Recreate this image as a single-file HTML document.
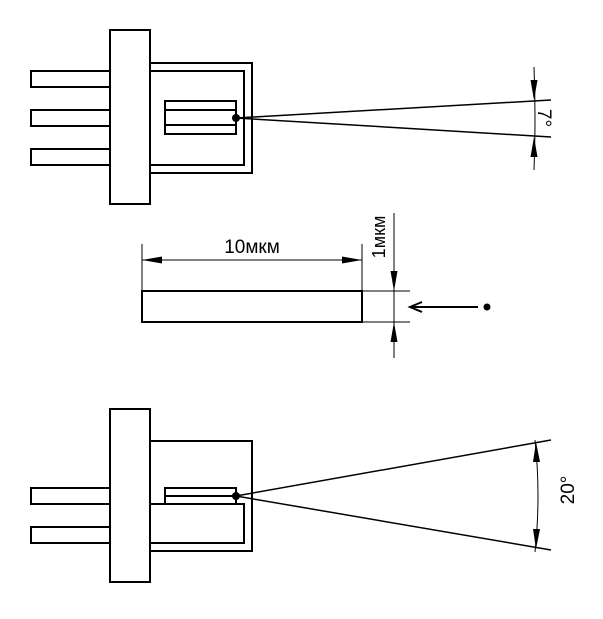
<!DOCTYPE html>
<html><head><meta charset="utf-8"><style>html,body{margin:0;padding:0;background:#fff}</style></head>
<body>
<svg width="603" height="614" viewBox="0 0 603 614" xmlns="http://www.w3.org/2000/svg">
<g fill="none" stroke="#000" stroke-width="2">
<rect x="31" y="71" width="79" height="16"/>
<rect x="31" y="110" width="79" height="16"/>
<rect x="31" y="149" width="79" height="16"/>
<rect x="110" y="30" width="40" height="174"/>
<polyline points="150,63 252,63 252,173 150,173"/>
<polyline points="150,71 244,71 244,165 150,165"/>
<rect x="165" y="101" width="71" height="33"/>
<line x1="165" y1="110" x2="236" y2="110"/>
<line x1="165" y1="125" x2="236" y2="125"/>
<rect x="31" y="488" width="79" height="16"/>
<rect x="31" y="527" width="79" height="16"/>
<rect x="110" y="409" width="40" height="173"/>
<polyline points="150,441 252,441 252,551 150,551"/>
<polyline points="150,504 244,504 244,543 150,543"/>
<rect x="165" y="488" width="71" height="16"/>
<line x1="165" y1="496" x2="236" y2="496"/>
<rect x="142" y="291" width="220" height="31"/>
</g>
<g stroke="#000" stroke-width="1.5" fill="none">
<line x1="236" y1="118" x2="551" y2="100"/>
<line x1="236" y1="118" x2="551" y2="137"/>
<line x1="236" y1="496" x2="551" y2="440"/>
<line x1="236" y1="496" x2="551" y2="550"/>
</g>
<g stroke="#000" stroke-width="1" fill="none">
<path d="M534,67 Q536,118 534,170"/>
<path d="M535,440 Q541,495 535,552"/>
<line x1="142" y1="244" x2="142" y2="291"/>
<line x1="362" y1="244" x2="362" y2="291"/>
<line x1="142" y1="260" x2="362" y2="260"/>
<line x1="362" y1="291" x2="410" y2="291"/>
<line x1="362" y1="322" x2="410" y2="322"/>
<line x1="394" y1="213" x2="394" y2="358"/>
<line x1="410" y1="307" x2="478" y2="307" stroke-width="2"/>
<polyline points="422,302 410,307 422,312" stroke-width="2"/>
</g>
<g fill="#000">
<circle cx="236" cy="118" r="4"/>
<circle cx="236" cy="496" r="4"/>
<circle cx="487" cy="307" r="3.5"/>
<polygon points="142,260 162,256.5 162,263.5"/>
<polygon points="362,260 342,256.5 342,263.5"/>
<polygon points="394,291 390.5,271 397.5,271"/>
<polygon points="394,322 390.5,342 397.5,342"/>
<polygon points="534,100 530.5,80 537.5,80"/>
<polygon points="534,137 530.5,157 537.5,157"/>
<polygon points="536,442 533,462 540,462"/>
<polygon points="536,549 533,529 540,529"/>
</g>
<g font-family="Liberation Sans, sans-serif" fill="#000">
<text x="252" y="253" font-size="19" text-anchor="middle">10мкм</text>
<text transform="translate(385,237) rotate(-90)" font-size="18" text-anchor="middle">1мкм</text>
<text transform="translate(538,118) rotate(90)" font-size="19" text-anchor="middle">7°</text>
<text transform="translate(574,490) rotate(-90)" font-size="19" text-anchor="middle">20°</text>
</g>
</svg>
</body></html>
